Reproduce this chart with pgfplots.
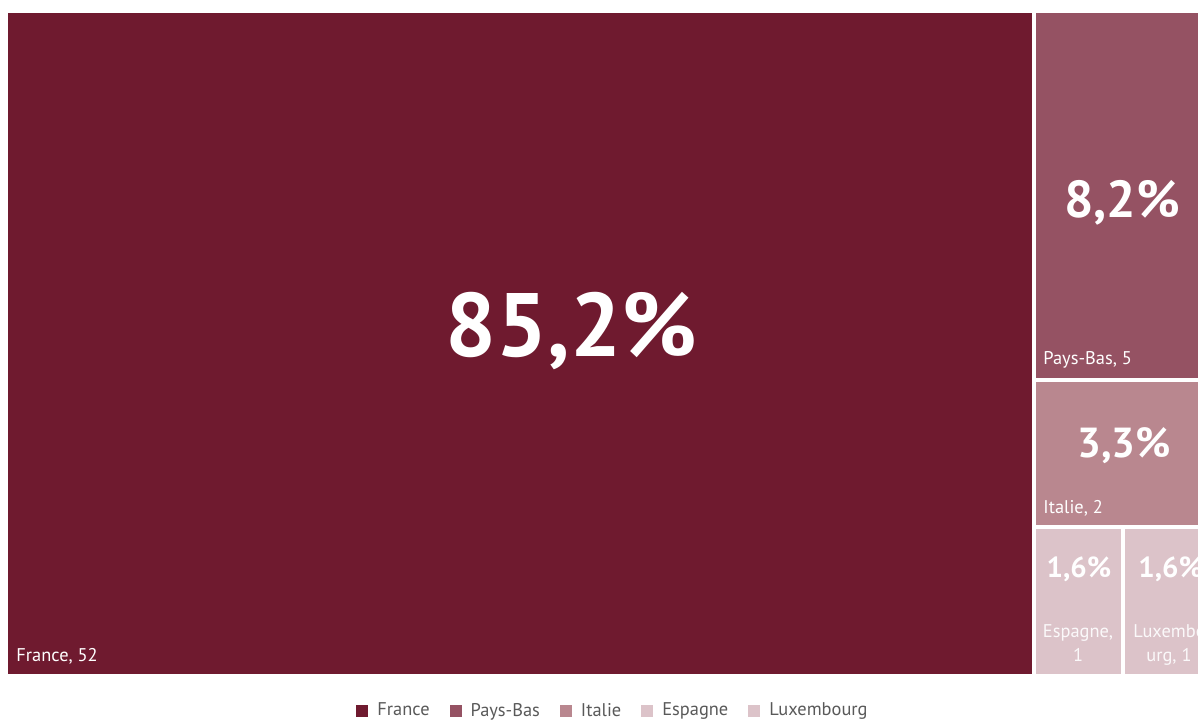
\documentclass[border=0pt]{standalone}
\usepackage{pgfplots}
\pgfplotsset{compat=1.18}
\usepackage{fontspec}
\setmainfont{PT Sans}
\definecolor{cFr}{HTML}{6F1A2F}
\definecolor{cPB}{HTML}{955263}
\definecolor{cIt}{HTML}{B9878F}
\definecolor{cEs}{HTML}{DCC3C9}
\definecolor{cLx}{HTML}{DCC3C9}
\definecolor{legtext}{HTML}{595959}

\begin{document}
\begin{tikzpicture}
\begin{axis}[
  scale only axis,
  width=599pt, height=359.5pt,
  xmin=0, xmax=1198, ymin=0, ymax=719,
  y dir=reverse,
  hide axis,
  clip=false,
  legend columns=5,
  legend style={at={(axis cs:614,711)}, anchor=center, draw=none, fill=none,
    font=\fontsize{9.2}{10}\selectfont, text=legtext,
    /tikz/every odd column/.append style={column sep=2.5pt},
    /tikz/every even column/.append style={column sep=8pt}},
  legend image code/.code={\fill[#1,draw=none] (0pt,-3pt) rectangle (6pt,3pt);},
]
% treemap cells: 52, 5, 2, 1, 1 (total 61)
\addplot[fill=cFr, draw=white, line width=2pt] coordinates {(6,11) (1034,11) (1034,676) (6,676)} -- cycle;
\addlegendentry{France}
\addplot[fill=cPB, draw=white, line width=2pt] coordinates {(1034,11) (1211,11) (1211,380) (1034,380)} -- cycle;
\addlegendentry{Pays-Bas}
\addplot[fill=cIt, draw=white, line width=2pt] coordinates {(1034,380) (1211,380) (1211,527) (1034,527)} -- cycle;
\addlegendentry{Italie}
\addplot[fill=cEs, draw=white, line width=2pt] coordinates {(1034,527) (1123,527) (1123,676) (1034,676)} -- cycle;
\addlegendentry{Espagne}
\addplot[fill=cLx, draw=white, line width=2pt] coordinates {(1123,527) (1211,527) (1211,676) (1123,676)} -- cycle;
\addlegendentry{Luxembourg}

\begin{scope}[every node/.style={text=white, inner sep=0pt}]
\node[font=\bfseries\fontsize{45}{48}\selectfont] at (axis cs:571,331) {85,2\%};
\node[font=\bfseries\fontsize{26}{28}\selectfont] at (axis cs:1122,203) {8,2\%};
\node[font=\bfseries\fontsize{21}{22}\selectfont] at (axis cs:1124,446) {3,3\%};
\node[font=\bfseries\fontsize{14.5}{16}\selectfont] at (axis cs:1079,569) {1,6\%};
\node[font=\bfseries\fontsize{14.5}{16}\selectfont, anchor=west] at (axis cs:1138,569) {1,6\%};
\node[font=\fontsize{9.2}{10}\selectfont, anchor=west] at (axis cs:16,656) {France, 52};
\node[font=\fontsize{9.2}{10}\selectfont, anchor=west] at (axis cs:1043,360) {Pays-Bas, 5};
\node[font=\fontsize{9.2}{10}\selectfont, anchor=west] at (axis cs:1043,508) {Italie, 2};
\node[font=\fontsize{9.2}{12}\selectfont, align=center, text=white!90!cEs] at (axis cs:1078,643) {Espagne,\\1};
\node[font=\fontsize{9.2}{12}\selectfont, align=left, text=white!90!cEs, anchor=north west] at (axis cs:1133,624) {Luxembo\\\hspace*{6.5pt}urg, 1};
\end{scope}
\end{axis}
\pgfresetboundingbox
\useasboundingbox (0,0) rectangle (599pt,359.5pt);
\end{tikzpicture}
\end{document}
